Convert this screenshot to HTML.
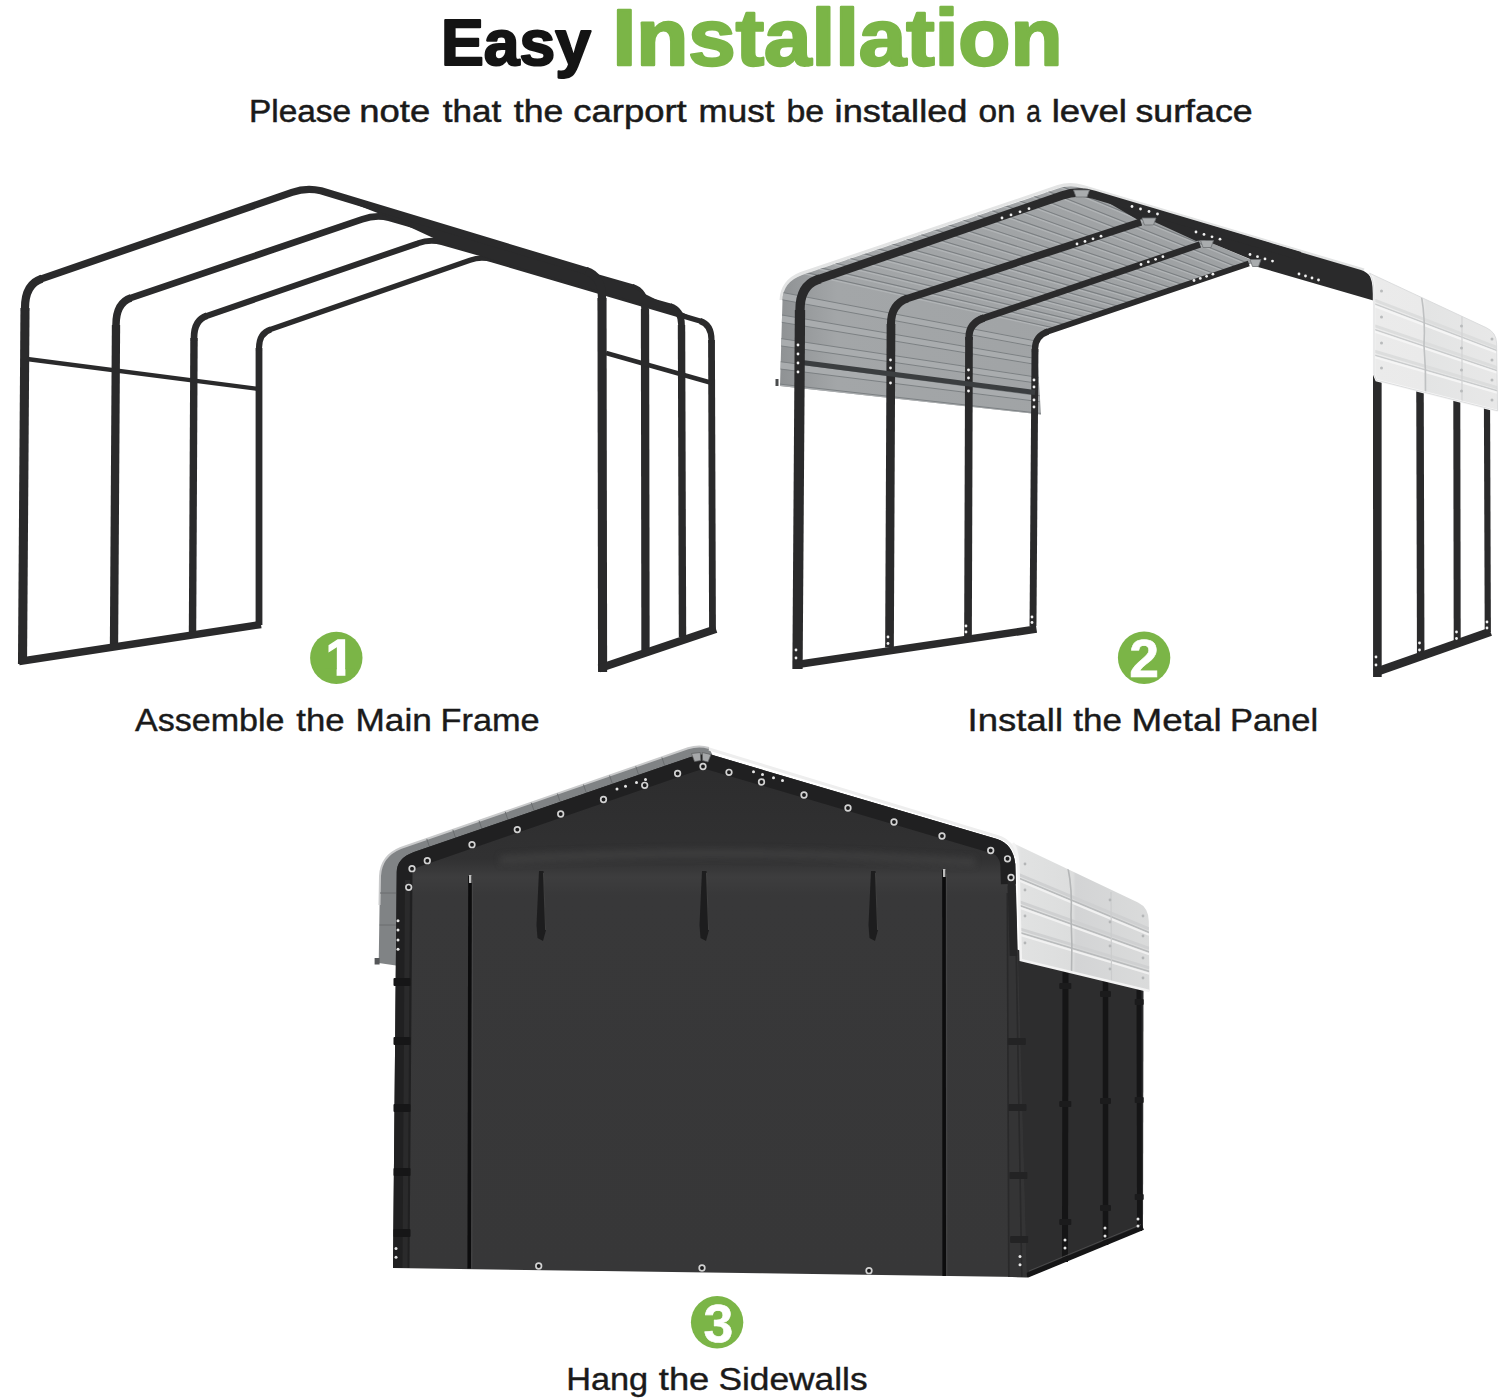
<!DOCTYPE html>
<html lang="en">
<head>
<meta charset="utf-8">
<title>Easy Installation</title>
<style>
html,body{margin:0;padding:0;background:#fff;}
body{width:1500px;height:1400px;overflow:hidden;}
svg{display:block;}
svg text{font-family:"Liberation Sans",sans-serif;}
</style>
</head>
<body>
<svg width="1500" height="1400" viewBox="0 0 1500 1400">
<rect width="1500" height="1400" fill="#fff"/>
<!-- panel 1: main frame -->
<g fill="none" stroke="#2a2a2b" stroke-linejoin="round" stroke-linecap="butt">
<path stroke-width="5.4" d="M269,330.0 L271,329.3 L470,260.3 Q481,256.3 492,259.7 L700,321 L702,321.6"/><path stroke-width="6.1" d="M259,351 L259,348 Q259,333 271,329.3"/><path stroke-width="6.1" d="M700,321 Q711.5,324.5 711.5,340 L711.5,343"/><path stroke-width="6.8" d="M259,625 L259,348"/><path stroke-width="6.8" d="M711.5,340 L712.5,630"/>
<path stroke-width="6" d="M205,316.5 L207,315.8 L418,243.3 Q430,238.8 442,242.2 L670,306.5 L672,307.1"/><path stroke-width="6.7" d="M194,341 L194,338 Q194,320 207,315.8"/><path stroke-width="6.7" d="M670,306.5 Q681.5,310 681.5,325 L681.5,328"/><path stroke-width="7.4" d="M192.5,635 L194,338"/><path stroke-width="7.4" d="M681.5,325 L682.5,637"/>
<path stroke-width="6.7" d="M129,298.59999999999997 L131,297.9 L362,219.4 Q376,214.4 389,217.8 L632,287.5 L634,288.1"/><path stroke-width="7.5" d="M116,328 L116,325 Q116,303 131,297.9"/><path stroke-width="7.5" d="M632,287.5 Q645,291.5 645,309 L645,312"/><path stroke-width="8.3" d="M114,647 L116,325"/><path stroke-width="8.3" d="M645,309 L645.5,650"/>
<path fill="#2a2a2b" stroke="none" d="M321,190.8 L586,270.8 L632,287.5 L670,306.5 L700,321 L492,259.5 L442,242 L389,217.5 Z"/>
<path stroke-width="7.3" d="M40,279.3 L42,278.6 L292,192.4 Q306.5,187.2 321,190.8 L586,270.8 L588,271.40000000000003"/><path stroke-width="8.2" d="M25,311 L25,308 Q25,284 42,278.6"/><path stroke-width="8.2" d="M586,270.8 Q602,275.8 602,298 L602,301"/><path stroke-width="9.1" d="M22.5,664 L25,308"/><path stroke-width="9.1" d="M602,298 L602.6,672"/>
<path stroke-width="7.5" d="M19,661.5 L261,624.5"/>
<path stroke-width="8" d="M599,668.5 L716,629"/>
<path stroke-width="4.4" d="M27,359 L259,389"/>
<path stroke-width="4.8" d="M606,353 L712,383"/>
</g>
<!-- panel 2: metal panel -->
<defs><clipPath id="p2g"><path d="M780,386 L782.5,300 Q783,282 802,275 L1058,188.5 Q1070,184.5 1082,188 L1256,262 L1049,331 Q1037,336 1037,350 L1041,414.5 Z"/></clipPath>
<linearGradient id="p2wg" x1="0" y1="0" x2="1" y2="0"><stop offset="0" stop-color="#8f9294"/><stop offset="0.12" stop-color="#a3a6a8"/><stop offset="1" stop-color="#9ea1a3"/></linearGradient>
<linearGradient id="p2white" x1="0" y1="0" x2="1" y2="0"><stop offset="0" stop-color="#f6f6f6"/><stop offset="0.05" stop-color="#ebebeb"/><stop offset="0.42" stop-color="#eaeaea"/><stop offset="0.44" stop-color="#e3e4e4"/><stop offset="1" stop-color="#e8e8e8"/></linearGradient>
</defs>
<path d="M781,300 Q782,281 801,273.5 L1058,186.5 Q1070,182.5 1083,186.5 L1364,270" fill="none" stroke="#e3e4e4" stroke-width="3"/>
<path d="M780,386 L782.5,300 Q783,282 802,275 L1058,188.5 Q1070,184.5 1082,188 L1256,262 L1049,331 Q1037,336 1037,350 L1041,414.5 Z" fill="url(#p2wg)"/>
<g clip-path="url(#p2g)" fill="none">
<path d="M796.9,272 L1056.5,329.8 M811.1,267.1 L1067.3,326.2 M825.3,262.2 L1078,322.6 M839.5,257.3 L1088.7,319.1 M853.7,252.5 L1099.5,315.5 M867.9,247.6 L1110.2,311.9 M882.2,242.7 L1120.9,308.3 M896.4,237.8 L1131.7,304.7 M910.6,233 L1142.4,301.2 M924.8,228.1 L1153.1,297.6 M939,223.2 L1163.9,294 M953.2,218.3 L1174.6,290.4 M967.4,213.5 L1185.4,286.8 M981.7,208.6 L1196.1,283.3 M995.9,203.7 L1206.8,279.7 M1010.1,198.8 L1217.6,276.1 M1024.3,194 L1228.3,272.5 M1038.5,189.1 L1239,269 M1052.7,184.2 L1249.8,265.4" stroke="#b0b3b5" stroke-width="1.6"/>
<path d="M796.9,270.5 L1056.5,328.5 M811.1,265.6 L1067.3,324.9 M825.3,260.7 L1078,321.3 M839.5,255.8 L1088.7,317.8 M853.7,251 L1099.5,314.2 M867.9,246.1 L1110.2,310.6 M882.2,241.2 L1120.9,307 M896.4,236.3 L1131.7,303.4 M910.6,231.5 L1142.4,299.9 M924.8,226.6 L1153.1,296.3 M939,221.7 L1163.9,292.7 M953.2,216.8 L1174.6,289.1 M967.4,212 L1185.4,285.5 M981.7,207.1 L1196.1,282 M995.9,202.2 L1206.8,278.4 M1010.1,197.3 L1217.6,274.8 M1024.3,192.5 L1228.3,271.2 M1038.5,187.6 L1239,267.7 M1052.7,182.7 L1249.8,264.1" stroke="#7b7f82" stroke-width="1.1"/>
<path d="M776.4,295 L1036,344 M775.5,317.6 L1037.2,361.8 M774.5,341.3 L1038.5,380.4 M773.6,364.5 L1039.7,398.7 M772.7,387 L1040.9,416.4" stroke="#a9acae" stroke-width="7"/>
<path d="M776.4,291.3 L1036,341 M776.4,298.7 L1036,346.9 M775.5,313.9 L1037.2,358.8 M775.5,321.3 L1037.2,364.7 M774.5,337.6 L1038.5,377.4 M774.5,345 L1038.5,383.4 M773.6,360.8 L1039.7,395.7 M773.6,368.2 L1039.7,401.7 M772.7,383.3 L1040.9,413.4 M772.7,390.7 L1040.9,419.3" stroke="#7c8083" stroke-width="1"/>
</g>
<rect x="775.5" y="379" width="3" height="7" fill="#4a4c4e"/>
<g fill="none" stroke="#2a2a2b" stroke-linejoin="round">
<path stroke-width="5.8" d="M1045.0,332.5 L1048,331.5 L1248.8,263.6"/><path stroke-width="6.35" d="M1035,352 L1035,349 Q1035,336 1048,331.5"/><path stroke-width="6.9" d="M1033,626 L1035,349"/>
<path stroke-width="6.6" d="M981.0,319 L984,318 L1200,244.5"/><path stroke-width="7.15" d="M969,340 L969,337 Q969,323 984,318"/><path stroke-width="7.7" d="M968,636 L969,337"/>
<path stroke-width="7.4" d="M904.5,299.5 L907.5,298.5 L1141,222"/><path stroke-width="8.05" d="M891,327 L891,324 Q891,304 907.5,298.5"/><path stroke-width="8.7" d="M889.5,647.5 L891,324"/>
<path stroke="#3b3e40" stroke-width="5" d="M802,362.5 L1035,392.5"/>
<path fill="#2a2a2b" stroke="none" d="M1084,188.5 L1361,270 Q1374,274 1375,292 L1375,301 L1258,267 L1250,259 L1204,240 L1196,241 L1146,218 L1138,220 Z"/>
<path stroke-width="8.4" d="M817,279.8 L1062,195.5 Q1078,190 1094,194.8 L1300,256"/>
<path stroke-width="9.3" d="M800,313 L800,310 Q800,286 817,279.8 L820,278.8"/>
<path stroke-width="10.3" d="M797.5,669 L800,310"/>
<path stroke-width="7.6" d="M794,665 L1036.5,629"/>
<path stroke-width="8.6" d="M1377.3,372 L1377.4,677"/>
<path stroke-width="7.5" d="M1420,390 L1420.7,654"/>
<path stroke-width="7" d="M1456.8,399 L1457.2,641"/>
<path stroke-width="6.2" d="M1487,407 L1487.8,632"/>
<path stroke-width="8.6" d="M1374.5,672.5 L1490.5,631.8"/>
</g>
<defs><clipPath id="p2w"><path d="M1369.6,273.2 L1486.5,327.8 Q1496.3,332.5 1496.6,343 L1497.6,410.8 L1376.5,380.2 L1374,374 L1374,294 Q1374,279 1369.6,273.2 Z"/></clipPath></defs>
<path d="M1369.6,273.2 L1486.5,327.8 Q1496.3,332.5 1496.6,343 L1497.6,410.8 L1376.5,380.2 L1374,374 L1374,294 Q1374,279 1369.6,273.2 Z" fill="url(#p2white)"/>
<g clip-path="url(#p2w)" fill="none">
<path d="M1372,350.5 L1498,387.8" stroke="#dcdddd" stroke-width="3"/>
<path d="M1372,354.3 L1498,391" stroke="#c9cbcc" stroke-width="1.4"/>
<path d="M1372,356.5 L1498,393" stroke="#f5f5f5" stroke-width="2.2"/>
<path d="M1372,324.8 L1498,367.8" stroke="#dcdddd" stroke-width="3"/>
<path d="M1372,328.6 L1498,371" stroke="#c9cbcc" stroke-width="1.4"/>
<path d="M1372,330.8 L1498,373" stroke="#f5f5f5" stroke-width="2.2"/>
<path d="M1372,299.1 L1498,347.8" stroke="#dcdddd" stroke-width="3"/>
<path d="M1372,302.9 L1498,351" stroke="#c9cbcc" stroke-width="1.4"/>
<path d="M1372,305.1 L1498,353" stroke="#f5f5f5" stroke-width="2.2"/>
<path d="M1421.5,296 Q1425.5,320 1424,345 Q1426,370 1425.5,393" stroke="#bfc1c2" stroke-width="1.6"/>
<path d="M1462,312 L1462,402" stroke="#d2d3d4" stroke-width="1.2"/>
</g>
<path d="M1369.6,273.2 Q1374,279 1374,294 L1374,374 L1376.5,380.2 L1497.6,410.8" fill="none" stroke="#f7f7f7" stroke-width="2.4"/>
<path d="M1369.6,273.2 L1486.5,327.8 Q1496.3,332.5 1496.6,343 L1497.6,410.8 L1376.5,380.2 L1374,374 L1374,294 Q1374,279 1369.6,273.2 Z" fill="none" stroke="#d6d7d8" stroke-width="0.8"/>
<g fill="#f2f2f2"><circle cx="1002" cy="218" r="1.4"/><circle cx="1011" cy="214.9" r="1.4"/><circle cx="1020" cy="211.8" r="1.4"/><circle cx="1029" cy="208.7" r="1.4"/><circle cx="1077" cy="244" r="1.4"/><circle cx="1085" cy="241.4" r="1.4"/><circle cx="1093" cy="238.8" r="1.4"/><circle cx="1101" cy="236.2" r="1.4"/><circle cx="1141" cy="264.5" r="1.4"/><circle cx="1148.3" cy="261.9" r="1.4"/><circle cx="1155.6" cy="259.3" r="1.4"/><circle cx="1162.9" cy="256.7" r="1.4"/><circle cx="1194" cy="280.5" r="1.4"/><circle cx="1200.3" cy="278.4" r="1.4"/><circle cx="1206.6" cy="276.3" r="1.4"/><circle cx="1212.9" cy="274.2" r="1.4"/><circle cx="1132" cy="206.5" r="1.4"/><circle cx="1140.5" cy="209" r="1.4"/><circle cx="1149" cy="211.5" r="1.4"/><circle cx="1157.5" cy="214" r="1.4"/><circle cx="1196" cy="232" r="1.4"/><circle cx="1204" cy="234.4" r="1.4"/><circle cx="1212" cy="236.8" r="1.4"/><circle cx="1220" cy="239.2" r="1.4"/><circle cx="1250" cy="254.5" r="1.4"/><circle cx="1257.5" cy="256.7" r="1.4"/><circle cx="1265" cy="258.9" r="1.4"/><circle cx="1272.5" cy="261.1" r="1.4"/><circle cx="1299" cy="274" r="1.4"/><circle cx="1305.5" cy="276" r="1.4"/><circle cx="1312" cy="278" r="1.4"/><circle cx="1318.5" cy="280" r="1.4"/><circle cx="798" cy="345" r="1.4"/><circle cx="798" cy="354" r="1.4"/><circle cx="798" cy="363" r="1.4"/><circle cx="798" cy="372" r="1.4"/><circle cx="890.5" cy="360" r="1.4"/><circle cx="890.5" cy="368" r="1.4"/><circle cx="890.5" cy="383" r="1.4"/><circle cx="968.5" cy="370" r="1.4"/><circle cx="968.5" cy="378" r="1.4"/><circle cx="968.5" cy="391" r="1.4"/><circle cx="1034" cy="380" r="1.4"/><circle cx="1034" cy="387" r="1.4"/><circle cx="1034" cy="400" r="1.4"/><circle cx="1034" cy="407" r="1.4"/><circle cx="796" cy="650" r="1.4"/><circle cx="796" cy="658" r="1.4"/><circle cx="888" cy="637" r="1.4"/><circle cx="888" cy="643.5" r="1.4"/><circle cx="966" cy="626" r="1.4"/><circle cx="966" cy="632" r="1.4"/><circle cx="1032" cy="617" r="1.4"/><circle cx="1032" cy="622.5" r="1.4"/><circle cx="1376" cy="657" r="1.4"/><circle cx="1376" cy="665" r="1.4"/><circle cx="1419.5" cy="643" r="1.4"/><circle cx="1419.5" cy="650" r="1.4"/><circle cx="1456.5" cy="632" r="1.4"/><circle cx="1456.5" cy="638.5" r="1.4"/><circle cx="1487" cy="622" r="1.4"/><circle cx="1487" cy="628" r="1.4"/></g>
<g fill="#b9bbbc"><circle cx="1381.5" cy="291" r="1.5"/><circle cx="1381.5" cy="317" r="1.5"/><circle cx="1381.5" cy="343" r="1.5"/><circle cx="1381.5" cy="368" r="1.5"/><circle cx="1461.5" cy="326" r="1.5"/><circle cx="1461.5" cy="348" r="1.5"/><circle cx="1461.5" cy="370" r="1.5"/><circle cx="1461.5" cy="391" r="1.5"/><circle cx="1492" cy="339" r="1.5"/><circle cx="1492" cy="360" r="1.5"/><circle cx="1492" cy="380" r="1.5"/><circle cx="1492" cy="400" r="1.5"/></g>
<path d="M1073.5,190 L1089.5,190 L1087,197 L1076,197 Z" fill="#a9acae" stroke="#6d7072" stroke-width="0.8"/>
<path d="M1142,218 L1156,218 L1153.5,225 L1144.5,225 Z" fill="#a9acae" stroke="#6d7072" stroke-width="0.8"/>
<path d="M1200.5,240.5 L1213.5,240.5 L1211,247.5 L1203,247.5 Z" fill="#a9acae" stroke="#6d7072" stroke-width="0.8"/>
<path d="M1250,259.5 L1261,259.5 L1258.5,266.5 L1252.5,266.5 Z" fill="#a9acae" stroke="#6d7072" stroke-width="0.8"/>
<!-- panel 3: sidewalls -->
<defs>
<linearGradient id="p3f" x1="0" y1="0" x2="0" y2="1"><stop offset="0" stop-color="#2c2c2d"/><stop offset="0.2" stop-color="#313132"/><stop offset="0.235" stop-color="#3d3d3e"/><stop offset="0.27" stop-color="#383839"/><stop offset="1" stop-color="#373738"/></linearGradient>
<linearGradient id="p3white" x1="0" y1="0" x2="1" y2="0"><stop offset="0" stop-color="#f0f0f0"/><stop offset="0.06" stop-color="#e1e2e2"/><stop offset="0.44" stop-color="#dcdddd"/><stop offset="0.46" stop-color="#d3d4d5"/><stop offset="1" stop-color="#dadbdb"/></linearGradient>
<clipPath id="p3fc"><path d="M393,1268 L396.7,872 Q397,858 414,852 L690,757.2 Q700,753.6 710,754.3 L997,839 Q1013,844 1015.3,864 L1026.7,1277 L760,1273.3 Z"/></clipPath>
<filter id="bl" x="-5%" y="-300%" width="110%" height="700%"><feGaussianBlur stdDeviation="3"/></filter>
</defs>
<path d="M378.7,963 L380,876 Q381,856 400.7,848 L688,748.3 Q699,744.8 709,748 L713,756 L700,758 L414,858 L399,880 L396,965.5 Z" fill="#808385"/>
<path d="M379.5,905 L380,876 Q381,856 400.7,848 L688,748.3 Q699,744.8 709,748" fill="none" stroke="#c9cacb" stroke-width="2"/>
<path d="M709,749 L998,836.6 Q1012,841 1016.5,856" fill="none" stroke="#eeeeee" stroke-width="3"/>
<rect x="374.6" y="958" width="5" height="6.5" fill="#555759"/>
<path d="M426.8,838.9 l3,9 M452.9,829.9 l3,9 M479.1,820.8 l3,9 M505.2,811.7 l3,9 M531.3,802.7 l3,9 M557.4,793.6 l3,9 M583.5,784.6 l3,9 M609.6,775.5 l3,9 M635.8,766.4 l3,9 M661.9,757.4 l3,9" stroke="#6a6d6f" stroke-width="1" fill="none"/>
<path d="M380,893 L396,893 M379.6,925 L396,925" stroke="#6a6d6f" stroke-width="1" fill="none"/>
<path d="M1012,948 L1143.5,986 L1143,1229 L1026.7,1277.5 L1012,1277 Z" fill="#2d2d2e"/>
<g stroke="#151516" fill="none">
<path d="M1065.5,968 L1065,1262" stroke-width="6"/>
<path d="M1105.5,978 L1105.5,1245" stroke-width="5.5"/>
<path d="M1139,987 L1139.5,1231" stroke-width="5"/>
<path d="M1026.7,1275.5 L1143,1227.5" stroke-width="5"/>
</g>
<path d="M1029,1271 L1141,1224.5" stroke="#4a4a4b" stroke-width="1" fill="none"/>
<g fill="#1b1b1c"><rect x="1059.3" y="983" width="12" height="6" rx="1"/><rect x="1059.3" y="1101" width="12" height="6" rx="1"/><rect x="1059.3" y="1219" width="12" height="6" rx="1"/><rect x="1100" y="991" width="11" height="6" rx="1"/><rect x="1100" y="1098" width="11" height="6" rx="1"/><rect x="1100" y="1205" width="11" height="6" rx="1"/><rect x="1134.7" y="999" width="9" height="6" rx="1"/><rect x="1134.7" y="1097" width="9" height="6" rx="1"/><rect x="1134.7" y="1194" width="9" height="6" rx="1"/></g>
<path d="M393,1268 L396.7,872 Q397,858 414,852 L690,757.2 Q700,753.6 710,754.3 L997,839 Q1013,844 1015.3,864 L1026.7,1277 L760,1273.3 Z" fill="url(#p3f)"/>
<g clip-path="url(#p3fc)">
<path d="M400,1268 L403,872 Q404,862 418,857 L690,763 Q700,759.4 710,760.3 L995,844.5 Q1008,848.5 1009.8,864 L1010.4,884" fill="none" stroke="#202021" stroke-width="19"/>
<path d="M500,860 Q720,846 975,862" fill="none" stroke="#48484a" stroke-width="9" opacity="0.5" filter="url(#bl)"/>
<path d="M407.5,880 L405,1268" stroke="#2a2a2b" stroke-width="5" fill="none"/>
<path d="M1007,886 L1015.5,886 L1026.7,1277 L1008.5,1277 Z" fill="#343435"/>
<path d="M1007.3,893 L1008.8,1277 M1015.2,893 L1021.8,1277" stroke="#29292a" stroke-width="1.6" fill="none"/>
<path d="M1011.3,880 L1013.4,956" stroke="#262627" stroke-width="7.5" fill="none"/>
</g>
<g fill="#161617"><rect x="393.5" y="978" width="17" height="8" rx="1"/><rect x="393.5" y="1037" width="17" height="8" rx="1"/><rect x="393.5" y="1104" width="17" height="8" rx="1"/><rect x="393.5" y="1168" width="17" height="8" rx="1"/><rect x="393.5" y="1229" width="17" height="8" rx="1"/></g>
<g fill="#232324"><rect x="1007.8" y="1038" width="18" height="7" rx="1"/><rect x="1008.5" y="1104" width="18" height="7" rx="1"/><rect x="1009.4" y="1172" width="18" height="7" rx="1"/><rect x="1010.1" y="1236" width="18" height="7" rx="1"/></g>
<path d="M470,876 L469.2,1268.5" stroke="#0c0c0d" stroke-width="3.6" fill="none"/>
<path d="M472.6,880 L471.8,1268.5" stroke="#4a4a4b" stroke-width="0.8" fill="none"/>
<path d="M944,870 L944.2,1276" stroke="#0c0c0d" stroke-width="3.6" fill="none"/>
<path d="M946.6,874 L946.8,1276" stroke="#4a4a4b" stroke-width="0.8" fill="none"/>
<rect x="469" y="875" width="2.4" height="8" fill="#bdbdbd"/><rect x="943" y="869" width="2.4" height="8" fill="#bdbdbd"/>
<path d="M539,871 L543.5,871 L546,930 L543,941 L537.5,938 L536.5,925 Z" fill="#1d1d1e"/>
<path d="M543.5,873 L545.6,930" stroke="#474748" stroke-width="0.8" fill="none"/>
<path d="M702,871 L706.5,871 L709,930 L706,941 L700.5,938 L699.5,925 Z" fill="#1d1d1e"/>
<path d="M706.5,873 L708.6,930" stroke="#474748" stroke-width="0.8" fill="none"/>
<path d="M871,871 L875.5,871 L878,930 L875,941 L869.5,938 L868.5,925 Z" fill="#1d1d1e"/>
<path d="M875.5,873 L877.6,930" stroke="#474748" stroke-width="0.8" fill="none"/>
<defs><clipPath id="p3w"><path d="M1013,843 L1138,902.5 Q1148.5,907.5 1148.8,921 L1149.5,991 L1020.8,960 L1018.5,870 Q1018,851 1013,843 Z"/></clipPath></defs>
<path d="M1013,843 L1138,902.5 Q1148.5,907.5 1148.8,921 L1149.5,991 L1020.8,960 L1018.5,870 Q1018,851 1013,843 Z" fill="url(#p3white)"/>
<g clip-path="url(#p3w)" fill="none">
<path d="M1017.2,873.9 L1149.1,928.9" stroke="#cfd0d1" stroke-width="3"/>
<path d="M1017.2,877.5 L1149.1,932.5" stroke="#b9bbbc" stroke-width="1.5"/>
<path d="M1017.2,879.8 L1149.1,934.8" stroke="#f1f1f1" stroke-width="2.2"/>
<path d="M1018.4,901.4 L1149.2,948.4" stroke="#cfd0d1" stroke-width="3"/>
<path d="M1018.4,905 L1149.2,952" stroke="#b9bbbc" stroke-width="1.5"/>
<path d="M1018.4,907.3 L1149.2,954.3" stroke="#f1f1f1" stroke-width="2.2"/>
<path d="M1019.6,928.9 L1149.4,967.9" stroke="#cfd0d1" stroke-width="3"/>
<path d="M1019.6,932.5 L1149.4,971.5" stroke="#b9bbbc" stroke-width="1.5"/>
<path d="M1019.6,934.8 L1149.4,973.8" stroke="#f1f1f1" stroke-width="2.2"/>
<path d="M1068,868 Q1072.5,890 1071,915 Q1072.5,945 1071.5,974" stroke="#b4b6b7" stroke-width="1.6"/>
<path d="M1111,892 L1111.5,983" stroke="#cbcccd" stroke-width="1.2"/>
</g>
<path d="M1013,843 Q1018,851 1018.5,870 L1020.8,960 L1149.5,991" fill="none" stroke="#f3f3f3" stroke-width="2.6"/>
<g fill="#b4b6b7"><circle cx="1025" cy="864" r="1.4"/><circle cx="1025" cy="890" r="1.4"/><circle cx="1025" cy="916" r="1.4"/><circle cx="1025" cy="943" r="1.4"/><circle cx="1110" cy="900" r="1.4"/><circle cx="1110" cy="922" r="1.4"/><circle cx="1110" cy="946" r="1.4"/><circle cx="1110" cy="969" r="1.4"/><circle cx="1143" cy="916" r="1.4"/><circle cx="1143" cy="936" r="1.4"/><circle cx="1143" cy="958" r="1.4"/><circle cx="1143" cy="978" r="1.4"/></g>
<g fill="#1a1a1b" stroke="#d2d2d2" stroke-width="1.7"><circle cx="408.7" cy="887.3" r="2.8"/><circle cx="412" cy="868.7" r="2.8"/><circle cx="427.3" cy="860.7" r="2.8"/><circle cx="472" cy="844.7" r="2.8"/><circle cx="517.3" cy="829.6" r="2.8"/><circle cx="560.7" cy="814" r="2.8"/><circle cx="603.5" cy="799.5" r="2.8"/><circle cx="644.7" cy="785.3" r="2.8"/><circle cx="677.6" cy="773.5" r="2.8"/><circle cx="703" cy="766.5" r="2.8"/><circle cx="729" cy="772.3" r="2.8"/><circle cx="761.5" cy="782" r="2.8"/><circle cx="804" cy="795" r="2.8"/><circle cx="848" cy="808" r="2.8"/><circle cx="894" cy="822" r="2.8"/><circle cx="942" cy="836" r="2.8"/><circle cx="990.7" cy="850.5" r="2.8"/><circle cx="1007.5" cy="858.8" r="2.8"/><circle cx="1011" cy="877.5" r="2.8"/><circle cx="538.7" cy="1266" r="2.8"/><circle cx="702" cy="1268" r="2.8"/><circle cx="869" cy="1270.7" r="2.8"/></g>
<g fill="#e6e6e6"><circle cx="398" cy="920.7" r="1.5"/><circle cx="398" cy="930" r="1.5"/><circle cx="398" cy="939.9" r="1.5"/><circle cx="398" cy="949.2" r="1.5"/><circle cx="396" cy="1248.5" r="1.5"/><circle cx="396" cy="1257.3" r="1.5"/><circle cx="1020" cy="1256.5" r="1.5"/><circle cx="1020" cy="1264.8" r="1.5"/><circle cx="617" cy="789" r="1.5"/><circle cx="625.5" cy="786.3" r="1.5"/><circle cx="636.5" cy="782.5" r="1.5"/><circle cx="645.5" cy="779.5" r="1.5"/><circle cx="753.5" cy="771.8" r="1.5"/><circle cx="762.5" cy="774.6" r="1.5"/><circle cx="773.5" cy="777.8" r="1.5"/><circle cx="782.5" cy="780.6" r="1.5"/><circle cx="1065" cy="1240" r="1.5"/><circle cx="1065" cy="1248" r="1.5"/><circle cx="1105" cy="1228" r="1.5"/><circle cx="1105" cy="1236" r="1.5"/><circle cx="1138" cy="1219" r="1.5"/><circle cx="1138" cy="1226" r="1.5"/></g>
<path d="M691.5,753.5 L700.3,752.5 L700.8,760.5 L694.5,761.5 Z M702.3,752.5 L711,754.5 L708,762 L702.6,760.5 Z" fill="#a6a8aa" stroke="#5b5d5f" stroke-width="0.7"/>
<!-- text -->
<text x="441" y="65.4" font-size="65.5" font-weight="700" fill="#141414" stroke="#141414" stroke-width="2.2" stroke-linejoin="round" textLength="150" lengthAdjust="spacingAndGlyphs">Easy</text>
<text x="612.5" y="65.3" font-size="79.5" font-weight="700" fill="#7bb547" stroke="#7bb547" stroke-width="2.5" stroke-linejoin="round" textLength="450" lengthAdjust="spacingAndGlyphs">Installation</text>
<text y="122.2" font-size="31" fill="#1a1a1a" stroke="#1a1a1a" stroke-width="0.5"><tspan x="249.0" textLength="102.1" lengthAdjust="spacingAndGlyphs">Please</tspan> <tspan x="359.3" textLength="70.9" lengthAdjust="spacingAndGlyphs">note</tspan> <tspan x="442.8" textLength="58.5" lengthAdjust="spacingAndGlyphs">that</tspan> <tspan x="513.8" textLength="49.4" lengthAdjust="spacingAndGlyphs">the</tspan> <tspan x="573.3" textLength="113.4" lengthAdjust="spacingAndGlyphs">carport</tspan> <tspan x="698.6" textLength="75.8" lengthAdjust="spacingAndGlyphs">must</tspan> <tspan x="786.5" textLength="37.7" lengthAdjust="spacingAndGlyphs">be</tspan> <tspan x="834.6" textLength="132.9" lengthAdjust="spacingAndGlyphs">installed</tspan> <tspan x="978.4" textLength="37.2" lengthAdjust="spacingAndGlyphs">on</tspan> <tspan x="1026.2" textLength="14.6" lengthAdjust="spacingAndGlyphs">a</tspan> <tspan x="1051.7" textLength="75.3" lengthAdjust="spacingAndGlyphs">level</tspan> <tspan x="1135.5" textLength="117.1" lengthAdjust="spacingAndGlyphs">surface</tspan></text>
<text y="731" font-size="31" fill="#1a1a1a" stroke="#1a1a1a" stroke-width="0.4"><tspan x="135.0" textLength="149.5" lengthAdjust="spacingAndGlyphs">Assemble</tspan> <tspan x="296.3" textLength="48.3" lengthAdjust="spacingAndGlyphs">the</tspan> <tspan x="355.5" textLength="76.4" lengthAdjust="spacingAndGlyphs">Main</tspan> <tspan x="440.5" textLength="99.2" lengthAdjust="spacingAndGlyphs">Frame</tspan></text>
<text y="731" font-size="31" fill="#1a1a1a" stroke="#1a1a1a" stroke-width="0.4"><tspan x="967.6" textLength="95.4" lengthAdjust="spacingAndGlyphs">Install</tspan> <tspan x="1073.2" textLength="48.7" lengthAdjust="spacingAndGlyphs">the</tspan> <tspan x="1131.6" textLength="90.0" lengthAdjust="spacingAndGlyphs">Metal</tspan> <tspan x="1229.9" textLength="88.3" lengthAdjust="spacingAndGlyphs">Panel</tspan></text>
<text y="1390.2" font-size="31" fill="#1a1a1a" stroke="#1a1a1a" stroke-width="0.4"><tspan x="566.2" textLength="82.0" lengthAdjust="spacingAndGlyphs">Hang</tspan> <tspan x="658.8" textLength="50.5" lengthAdjust="spacingAndGlyphs">the</tspan> <tspan x="718.4" textLength="149.2" lengthAdjust="spacingAndGlyphs">Sidewalls</tspan></text>
<circle cx="336.3" cy="657.9" r="26.2" fill="#7bb547"/>
<text x="339.8" y="675.2" font-size="50.5" font-weight="700" fill="#fff" stroke="#fff" stroke-width="1.3" text-anchor="middle">1</text>
<path d="M325,668.4 H336.6 V677.2 H325 Z M345.4,668.4 H354.2 V676.7 H345.4 Z" fill="#7bb547"/>
<circle cx="1144.1" cy="657.7" r="26.2" fill="#7bb547"/>
<text x="1144.1" y="676.6" font-size="53.5" font-weight="700" fill="#fff" stroke="#fff" stroke-width="0.6" text-anchor="middle">2</text>
<circle cx="717.1" cy="1322.3" r="26.2" fill="#7bb547"/>
<text x="718.3000000000001" y="1342.1" font-size="53.5" font-weight="700" fill="#fff" stroke="#fff" stroke-width="0.6" text-anchor="middle">3</text>
</svg>
</body>
</html>
